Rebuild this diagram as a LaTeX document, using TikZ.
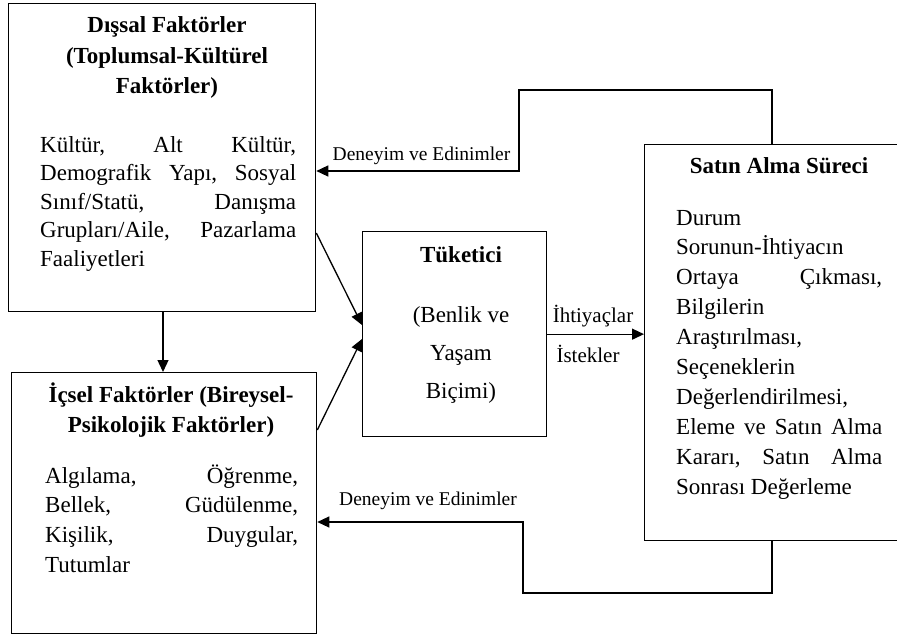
\documentclass[tikz,border=0pt]{standalone}
\usepackage{fontspec}
\setmainfont{Liberation Serif}
\usetikzlibrary{arrows.meta,calc}
% one justified line of a text block, as wide as the block
\newcommand\fullline[1]{\hbox to\linewidth{#1}}

\begin{document}
\begin{tikzpicture}[x=1pt,y=-1pt,
  box/.style={draw, line width=1.3pt, rectangle, inner sep=0pt, anchor=north west},
  conn/.style={line width=1.3pt, -{Triangle[length=12pt,width=11pt]}},
  title/.style={inner sep=0pt, anchor=base, font=\fontsize{23}{30.5}\selectfont\bfseries},
  body/.style={inner sep=0pt, anchor=base west},
  tag/.style={inner sep=0pt, anchor=base, font=\fontsize{19.5}{24}\selectfont}]

\useasboundingbox (0,0) rectangle (897,634);

% boxes
\node[box, minimum width=307pt, minimum height=308pt] (dis) at (8,3) {};
\node[box, minimum width=305pt, minimum height=261pt] (ic) at (11,372) {};
\node[box, minimum width=184pt, minimum height=205pt] (tuk) at (362,231) {};
\node[box, minimum width=258pt, minimum height=396pt] (sat) at (644,144) {};

% external factors
\node[title] (disT) at (167,33) {\parbox[t]{300pt}{\centering D\i{}şsal Faktörler\\(Toplumsal-Kültürel\\Faktörler)}};
\node[body] (disB) at (40,152) {\parbox[t]{256pt}{\fontsize{23}{28.5}\selectfont
  \fullline{Kültür,\hfill Alt\hfill Kültür,}
  \fullline{Demografik\hfill Yapı,\hfill Sosyal}
  \fullline{Sınıf/Statü,\hfill Danışma}
  \fullline{Grupları/Aile,\hfill Pazarlama}
  \fullline{Faaliyetleri\hfill}}};

% internal factors
\node[title] (icT) at (171,402) {\parbox[t]{300pt}{\centering İçsel Faktörler (Bireysel-\\Psikolojik Faktörler)}};
\node[body] (icB) at (45,483) {\parbox[t]{253pt}{\fontsize{23}{29.7}\selectfont
  \fullline{Algılama,\hfill Öğrenme,}
  \fullline{Bellek,\hfill Güdülenme,}
  \fullline{Kişilik,\hfill Duygular,}
  \fullline{Tutumlar\hfill}}};

% consumer
\node[title] (tukT) at (461,262) {Tüketici};
\node[inner sep=0pt, anchor=base] (tukB) at (461,322) {\parbox[t]{150pt}{\centering\fontsize{23}{38}\selectfont (Benlik ve\\Yaşam\\Biçimi)}};

% purchasing process
\node[title] (satT) at (779,173) {Satın Alma Süreci};
\node[body] (satB) at (676,225) {\parbox[t]{206pt}{\fontsize{23}{29.9}\selectfont
  \fullline{Durum\hfill}
  \fullline{Sorunun-İhtiyacın\hfill}
  \fullline{Ortaya\hfill Çıkması,}
  \fullline{Bilgilerin\hfill}
  \fullline{Araştırılması,\hfill}
  \fullline{Seçeneklerin\hfill}
  \fullline{Değerlendirilmesi,\hfill}
  \fullline{Eleme\hfill ve\hfill Satın\hfill Alma}
  \fullline{Kararı,\hfill Satın\hfill Alma}
  \fullline{Sonrası Değerleme\hfill}}};

% connectors
\draw[conn] ($(dis.south west)+(155,0)$) -- ($(ic.north west)+(152,0)$);
\draw[conn] ($(dis.north east)+(0,230)$) -- ($(tuk.north west)+(0,94)$);
\draw[conn] ($(ic.north east)+(0,58)$) -- ($(tuk.north west)+(0,108)$);
\draw[conn] (tuk.east) -- (tuk.east -| sat.west);

\coordinate (up) at (519,90);
\coordinate (down) at (523,593);
\draw[conn] ($(sat.north west)+(128,0)$) |- (up) |- ($(dis.north east)+(0,168)$);
\draw[conn] ($(sat.south west)+(128,0)$) |- (down) |- ($(ic.north east)+(0,150)$);

% connector labels
\node[tag] (fbT) at (421.5,160) {Deneyim ve Edinimler};
\node[tag] (fbB) at (428,505) {Deneyim ve Edinimler};
\node[tag, font=\fontsize{21}{24}\selectfont] (need) at (593,322) {İhtiyaçlar};
\node[tag, font=\fontsize{21}{24}\selectfont] (want) at (588,362) {İstekler};
\end{tikzpicture}
\end{document}
